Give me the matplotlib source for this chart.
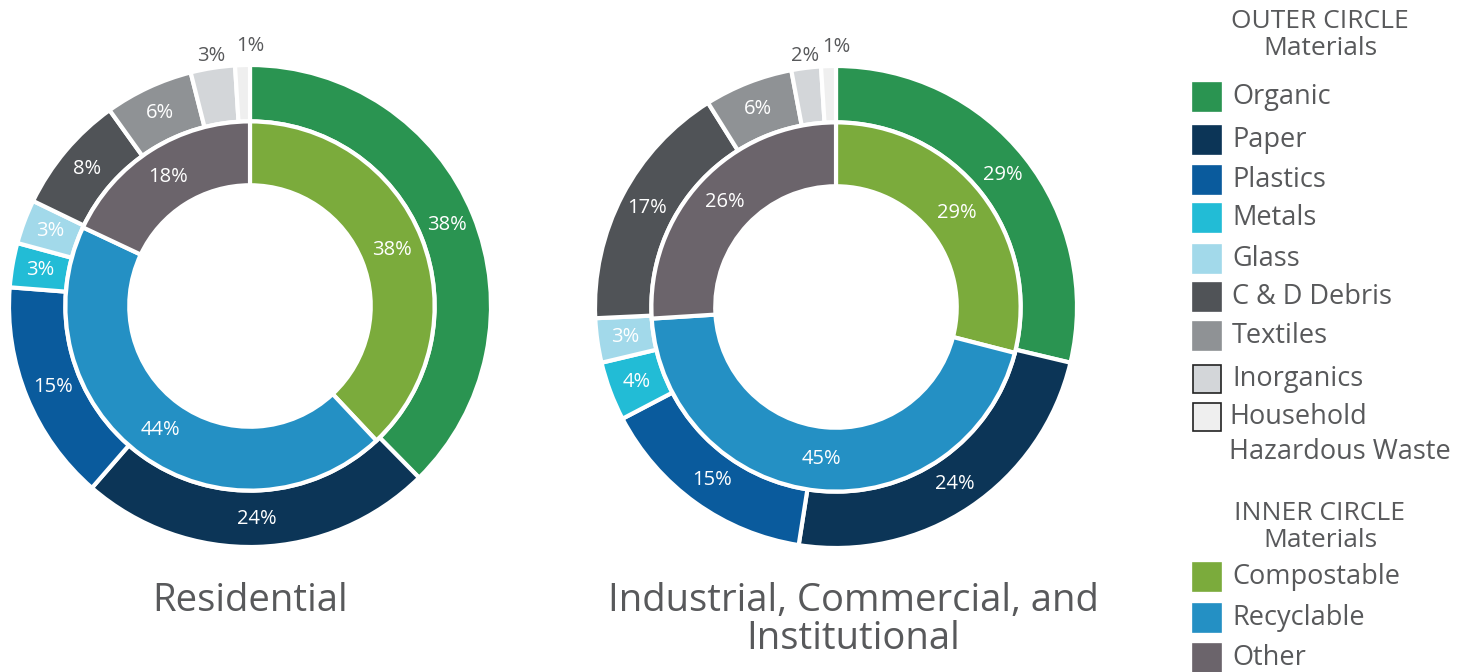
import numpy as np
import matplotlib
matplotlib.use('Agg')
import matplotlib.pyplot as plt
from matplotlib.patches import Rectangle

plt.rcParams['font.family'] = ['Open Sans', 'DejaVu Sans']

# outer ring: materials
outer_names = ['Organic', 'Paper', 'Plastics', 'Metals', 'Glass', 'C & D Debris',
               'Textiles', 'Inorganics', 'Household\nHazardous Waste']
outer_colors = ['#2a9451', '#0c3557', '#0a5b9d', '#22bcd6', '#a2d9ea', '#505357',
                '#8f9295', '#d3d6d9', '#efefef']
res_outer = [38, 24, 15, 3, 3, 8, 6, 3, 1]
ici_outer = [29, 24, 15, 4, 3, 17, 6, 2, 1]

# inner ring: streams
inner_names = ['Compostable', 'Recyclable', 'Other']
inner_colors = ['#7bab3c', '#2490c4', '#6b646b']
res_inner = [38, 44, 18]
ici_inner = [29, 45, 26]

# small slices get their label outside the ring (radius, angle nudge in deg)
outside = [False] * 7 + [True, True]
out_r = [0] * 7 + [1.05, 1.08]
out_nudge = [0] * 7 + [0, -1.8]

GREY = '#58595b'
W, H = 1465, 672
fig = plt.figure(figsize=(W / 100, H / 100), dpi=100)

R_PX = 241.0
OUT_W = 0.234
IN_R = 1 - OUT_W
IN_W = 0.265
PCT = 14.5
LEG = 19.5


def donut(cx, cy, outer, inner):
    lim = 1.1
    size = 2 * lim * R_PX
    ax = fig.add_axes([(cx - size / 2) / W, 1 - (cy + size / 2) / H, size / W, size / H])
    wedges_o, _ = ax.pie(outer, colors=outer_colors, radius=1, startangle=90,
                         counterclock=False,
                         wedgeprops=dict(width=OUT_W, edgecolor='white', linewidth=3))
    wedges_i, _ = ax.pie(inner, colors=inner_colors, radius=IN_R, startangle=90,
                         counterclock=False,
                         wedgeprops=dict(width=IN_W, edgecolor='white', linewidth=3))
    for w in wedges_o + wedges_i:
        w.set_clip_on(False)
    ax.set_xlim(-lim, lim)
    ax.set_ylim(-lim, lim)
    ax.set_aspect('equal')
    ax.axis('off')

    for i, (w, v) in enumerate(zip(wedges_o, outer)):
        ang = (w.theta1 + w.theta2) / 2
        if outside[i]:
            ang = np.deg2rad(ang + out_nudge[i])
            r = out_r[i]
            col = GREY
        else:
            ang = np.deg2rad(ang)
            r = 1 - OUT_W / 2
            col = 'white'
        ax.text(r * np.cos(ang), r * np.sin(ang), '%d%%' % v, ha='center', va='center',
                fontsize=PCT, color=col)
    for w, v in zip(wedges_i, inner):
        ang = np.deg2rad((w.theta1 + w.theta2) / 2)
        r = IN_R - IN_W / 2
        ax.text(r * np.cos(ang), r * np.sin(ang), '%d%%' % v, ha='center', va='center',
                fontsize=PCT, color='white')
    return ax


donut(250, 306, res_outer, res_inner)
donut(836, 307, ici_outer, ici_inner)

fig.text(250 / W, 1 - 601 / H, 'Residential', ha='center', va='center', fontsize=27.5, color=GREY)
fig.text(853 / W, 1 - 620 / H, 'Industrial, Commercial, and\nInstitutional', ha='center',
         va='center', fontsize=27.5, color=GREY, linespacing=0.98)


# legend, drawn by hand
def header(y, txt):
    fig.text(1320 / W, 1 - y / H, txt, ha='center', va='center', fontsize=19,
             color=GREY, linespacing=1.15)


def swatch(y, col, edge=False):
    fig.patches.append(Rectangle((1193 / W, 1 - (y + 14) / H), 28 / W, 28 / H,
                                 transform=fig.transFigure, facecolor=col,
                                 edgecolor='#222222' if edge else col, linewidth=1.2))


header(35, 'OUTER CIRCLE\nMaterials')
outer_y = [97, 140, 180, 218, 259, 297, 336, 379, 417]
for y, n, c in zip(outer_y, outer_names, outer_colors):
    swatch(y, c, edge=n.startswith(('Inorganics', 'Household')))
    for k, part in enumerate(n.split('\n')):
        fig.text((1232 if '\n' not in n else 1229) / W, 1 - (y + k * 35) / H,
                 part, ha='left', va='center', fontsize=LEG, color=GREY)

header(527, 'INNER CIRCLE\nMaterials')
inner_y = [577, 618, 658]
for y, n, c in zip(inner_y, inner_names, inner_colors):
    swatch(y, c)
    fig.text(1232 / W, 1 - y / H, n, ha='left', va='center', fontsize=LEG, color=GREY)

fig.savefig('out.png', dpi=100)
